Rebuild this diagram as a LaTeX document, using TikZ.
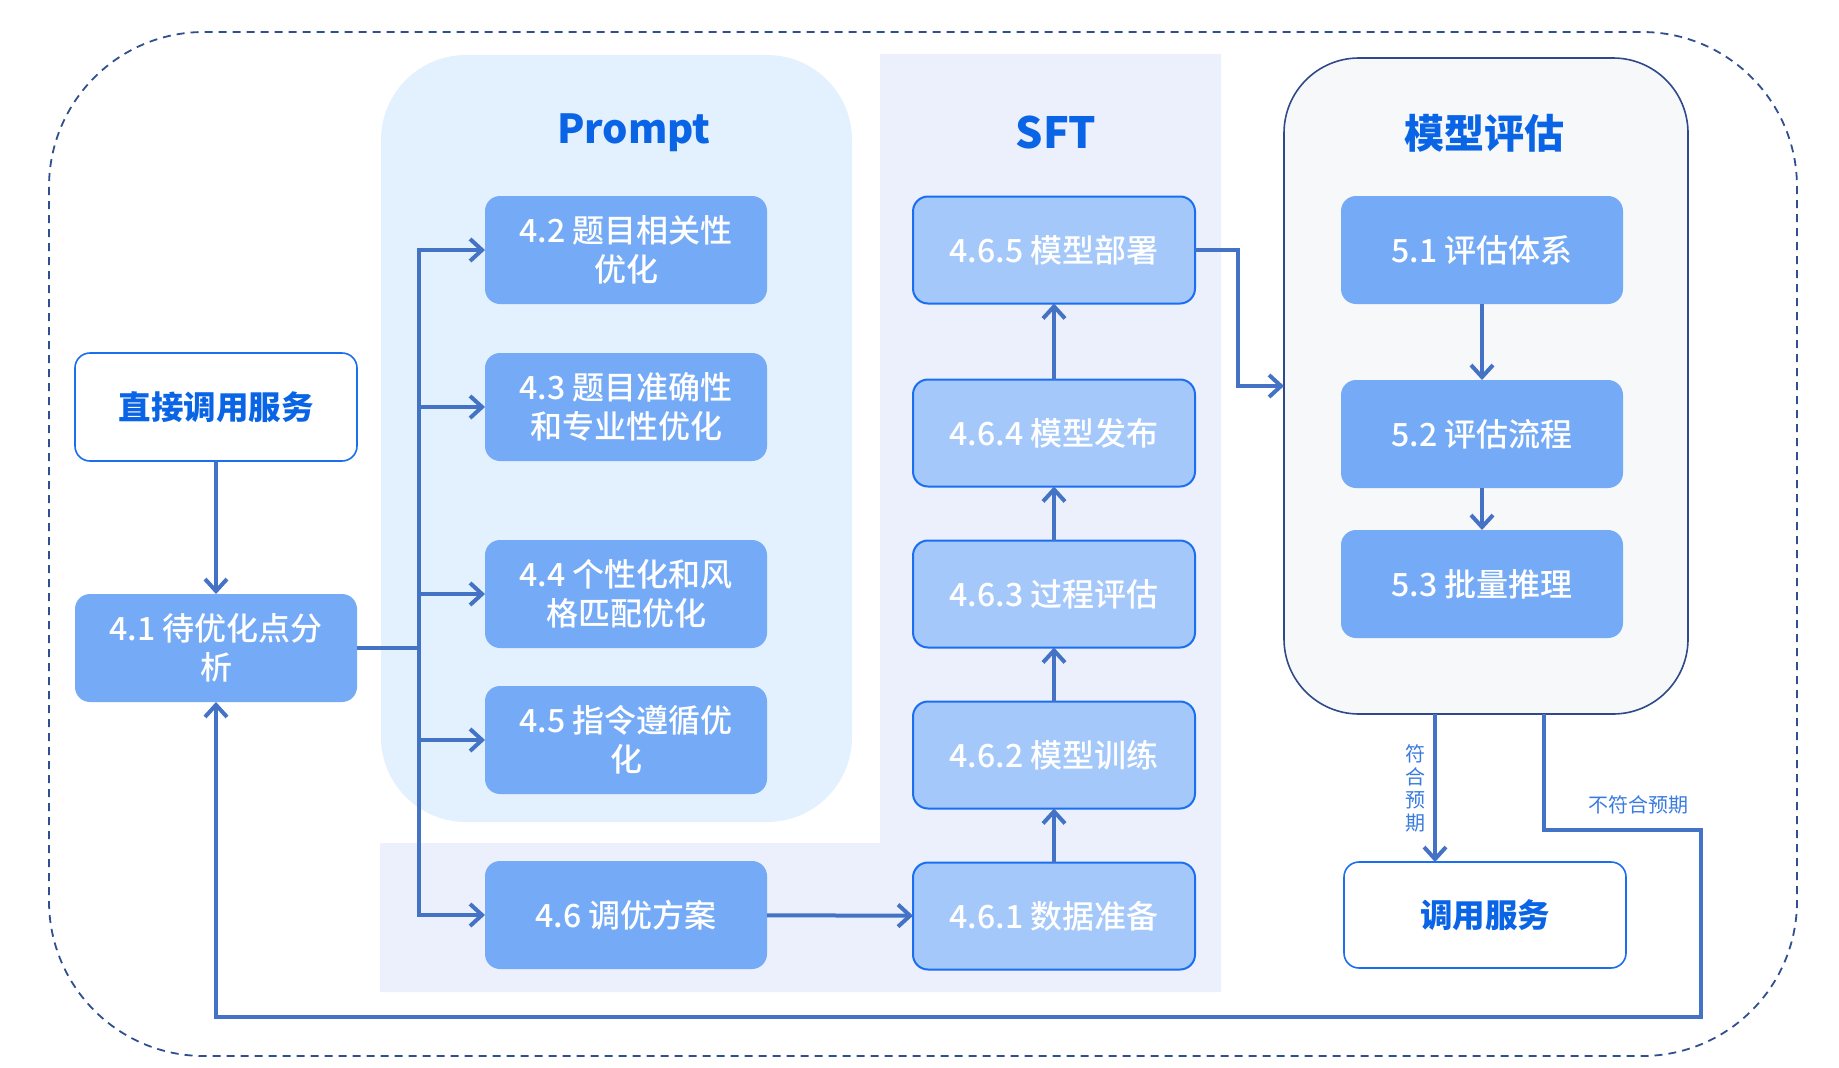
\documentclass[tikz,border=0pt]{standalone}
\usepackage{fontspec}
\setmainfont{Noto Sans CJK SC}
\newfontfamily\medfont{Noto Sans CJK SC Medium}
\usepackage{xcolor}
\usetikzlibrary{positioning, arrows.meta}

\definecolor{boxblue}{HTML}{75AAF7}
\definecolor{sftfill}{HTML}{A5C8FB}
\definecolor{sftline}{HTML}{1A6EF0}
\definecolor{promptbg}{HTML}{E3F0FD}
\definecolor{sftbg}{HTML}{ECF0FC}
\definecolor{evalbg}{HTML}{F7F8FA}
\definecolor{evalline}{HTML}{2F4A8A}
\definecolor{arrowblue}{HTML}{4472C4}
\definecolor{titleblue}{HTML}{0A64E6}
\definecolor{dashcol}{HTML}{2F4F8F}
\definecolor{lblblue}{HTML}{3A7BE0}

\begin{document}
\begin{tikzpicture}[x=1pt, y=-1pt,
	pbox/.style={rectangle, rounded corners=15pt, fill=boxblue, text=white, minimum width=282pt, minimum height=108pt, inner sep=0pt, outer sep=0pt, align=center, font=\fontsize{32pt}{39pt}\selectfont\medfont},
	sbox/.style={pbox, fill=sftfill, draw=sftline, line width=2pt, minimum height=107pt},
	wbox/.style={pbox, fill=white, draw=sftline, line width=1.6pt, text=titleblue, font=\fontsize{32.5pt}{39pt}\selectfont\bfseries},
	title/.style={text=titleblue, font=\fontsize{40pt}{48pt}\selectfont\bfseries},
	flow/.style={draw=arrowblue, line width=4pt, -{Straight Barb[length=12pt, width=22pt]}},
	lbl/.style={text=lblblue, font=\fontsize{20pt}{23pt}\selectfont, align=center, inner sep=0pt}
	]
	\useasboundingbox (0,0) rectangle (1839,1068);

	% panels
	\draw[dashcol, line width=1.8pt, dash pattern=on 8pt off 6pt, rounded corners=155pt] (49,32) rectangle (1797,1056);
	\fill[sftbg] (880,54) -- (1221,54) -- (1221,992) -- (380,992) -- (380,843) -- (880,843) -- cycle;
	\fill[promptbg, rounded corners=85pt] (381,55) rectangle (852,822);
	\node[draw=evalline, fill=evalbg, line width=1.6pt, rounded corners=75pt, minimum width=404pt, minimum height=656pt, outer sep=0pt] (evalp) at (1486,386) {};

	\node[title] (ptitle) at (634,133) {Prompt};
	\node[title, font=\fontsize{43pt}{48pt}\selectfont\bfseries] (stitle) at (1056,133) {SFT};
	\node[title] (etitle) at (1484,133) {模型评估};

	% left
	\node[wbox] (direct) at (216,407) {直接调用服务};
	\node[pbox] (n41) at (216,648) {4.1 待优化点分\\析};

	% prompt
	\node[pbox] (n42) at (626,250) {4.2 题目相关性\\优化};
	\node[pbox] (n43) [below=49pt of n42] {4.3 题目准确性\\和专业性优化};
	\node[pbox] (n44) [below=79pt of n43] {4.4 个性化和风\\格匹配优化};
	\node[pbox] (n45) [below=38pt of n44] {4.5 指令遵循优\\化};
	\node[pbox] (n46) [below=67pt of n45] {4.6 调优方案};

	% sft
	\node[sbox] (n461) at (1054,916) {4.6.1 数据准备};
	\node[sbox] (n462) [above=54pt of n461] {4.6.2 模型训练};
	\node[sbox] (n463) [above=54pt of n462] {4.6.3 过程评估};
	\node[sbox] (n464) [above=54pt of n463] {4.6.4 模型发布};
	\node[sbox] (n465) at (1054,250) {4.6.5 模型部署};

	% eval
	\node[pbox] (n51) at (1482,250) {5.1 评估体系};
	\node[pbox] (n52) [below=76pt of n51] {5.2 评估流程};
	\node[pbox] (n53) [below=42pt of n52] {5.3 批量推理};
	\node[wbox, minimum height=106pt] (call) at (1485,915) {调用服务};

	\draw[arrowblue, line width=4pt] (n41.east) -- ++(62,0) coordinate (split);
	\draw[arrowblue, line width=4pt, line cap=rect] (split |- n42) -- (split |- n46);
	\foreach \n in {n42,n43,n44,n45,n46}
		\draw[flow] (split |- \n) -- (\n);

	\path[flow]
	(direct) edge (n41)
	(n46) edge (n461)
	(n461) edge (n462)
	(n462) edge (n463)
	(n463) edge (n464)
	(n464) edge (n465)
	(n51) edge (n52)
	(n52) edge (n53);

	\draw[flow] (n465.east) -- ++(43,0) |- (evalp.west);
	\draw[flow] ([xshift=-51pt]evalp.south) -- ([xshift=-51pt]evalp.south |- call.north)
		node[lbl, pos=0.5, left=8pt] {符\\合\\预\\期};
	\draw[flow] ([xshift=58pt]evalp.south) -- ++(0,116) -| ++(157,187)
		node[lbl, pos=0.25, above=14pt, xshift=16pt] {不符合预期}
		-| (n41.south);

\end{tikzpicture}
\end{document}
